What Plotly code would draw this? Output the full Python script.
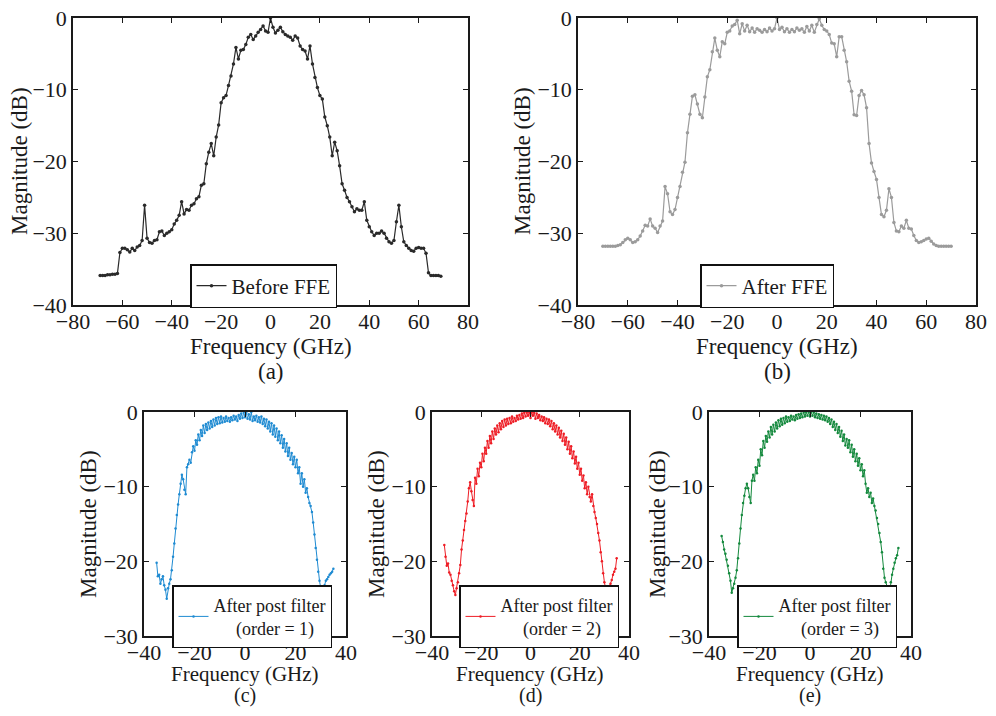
import numpy as np
import plotly.graph_objects as go

# page body has an 8px default margin, so the figure is drawn 8px in from the corner
PAGE_OFF = 8
W, H = 980, 700

# ---------------- data ----------------
freq_a = np.arange(-69, 70, 1)
mag_before_ffe = [
    -35.9, -35.9, -35.9, -35.8, -35.8, -35.7, -35.7, -35.6,
    -32.7, -32.1, -32.1, -32.3, -32.6, -32.1, -32.4, -31.9, -31.7, -31.0,
    -26.1, -30.7, -31.3, -31.4, -31.0, -30.9, -29.8, -29.7, -30.3, -30.0,
    -29.8, -29.5, -28.7, -28.2, -27.5, -25.6, -27.3, -26.7, -26.8, -26.1,
    -25.9, -25.2, -24.9, -23.3, -23.1, -20.3, -18.7, -17.5, -19.2, -16.6,
    -14.9, -11.8, -11.1, -10.8, -9.4, -8.1, -6.4, -4.1, -5.7, -4.5,
    -4.4, -3.7, -2.7, -2.3, -3.0, -2.5, -2.0, -1.6, -1.1, -1.8,
    -2.0, 0.0, -1.3, -2.1, -1.7, -1.3, -1.9, -2.3, -2.5, -2.7,
    -3.1, -2.5, -2.8, -3.9, -4.4, -4.6, -5.7, -3.9, -6.4, -8.3,
    -9.7, -10.8, -11.3, -13.8, -15.0, -16.6, -19.2, -17.3, -18.5, -20.6,
    -23.1, -24.0, -25.0, -25.6, -26.3, -27.0, -26.6, -26.8, -26.8, -25.6,
    -28.2, -29.1, -29.8, -30.3, -30.0, -30.0, -29.7, -30.0, -30.7, -31.2,
    -31.4, -31.0, -28.4, -26.1, -29.1, -31.2, -31.7, -32.1, -32.4, -32.5,
    -32.1, -32.0, -32.1, -32.1, -32.8, -35.5, -35.9, -35.9, -35.9, -35.9, -36.0,
]

freq_b = np.arange(-70, 71, 1)
mag_after_ffe = [
    -31.8, -31.8, -31.8, -31.8, -31.8, -31.8, -31.7, -31.6, -31.3, -30.9,
    -30.7, -30.9, -31.3, -31.2, -30.9, -30.4, -29.7, -28.9, -29.0, -28.0,
    -29.0, -29.3, -29.9, -29.0, -28.3, -23.5, -24.5, -27.0, -27.4, -26.7,
    -25.0, -23.5, -21.5, -20.1, -16.0, -13.4, -10.9, -10.7, -12.0, -13.4,
    -13.9, -11.0, -8.2, -7.2, -4.7, -2.8, -4.5, -5.4, -3.3, -3.6,
    -2.0, -1.8, -1.1, -0.9, -0.3, -2.2, -0.8, -1.8, -1.0, -1.9,
    -1.4, -2.0, -1.5, -1.7, -2.0, -1.6, -1.9, -1.4, -1.8, -1.5,
    0.0, -1.6, -1.3, -1.9, -1.5, -2.0, -1.6, -1.9, -1.4, -1.7,
    -1.5, -2.0, -1.2, -1.8, -1.0, -2.0, -0.9, -0.1, -1.0, -1.6,
    -1.8, -2.3, -3.5, -3.6, -5.4, -2.6, -2.6, -4.5, -6.1, -8.8,
    -10.2, -13.5, -13.6, -10.8, -10.1, -10.7, -12.5, -17.5, -20.2, -21.4,
    -22.5, -25.0, -27.4, -27.7, -26.8, -23.8, -25.0, -28.5, -29.7, -29.8,
    -29.0, -29.3, -28.2, -29.3, -29.4, -30.3, -31.0, -31.3, -31.2, -31.0,
    -30.8, -30.7, -31.1, -31.5, -31.7, -31.8, -31.8, -31.8, -31.8, -31.8, -31.8,
]

freq_post = np.arange(-35, 35.01, 0.5)
mag_post_order1 = [
    -20.2, -22.0, -21.8, -23.0, -22.4, -22.0, -23.2, -23.8, -25.0, -23.6,
    -23.0, -22.4, -21.2, -19.4, -17.6, -15.6, -13.8, -12.4, -11.0, -9.6,
    -8.4, -9.0, -10.4, -11.0, -7.4, -7.0, -6.4, -6.8, -5.4, -4.6,
    -5.2, -3.8, -4.4, -3.0, -3.8, -2.4, -3.2, -1.8, -2.8, -1.6,
    -2.4, -1.4, -2.2, -1.2, -2.0, -1.0, -1.8, -0.8, -1.6, -0.7,
    -1.5, -0.6, -1.4, -0.8, -1.3, -0.6, -1.2, -0.8, -1.3, -0.7,
    -1.1, -0.5, -1.0, -0.6, -1.2, -0.4, -0.9, -0.2, -0.8, 0.0,
    -0.7, -0.1, -0.9, -0.3, -1.0, 0.0, -1.2, -0.6, -1.1, -0.5,
    -1.3, -0.7, -1.4, -0.6, -1.6, -0.9, -1.9, -1.0, -2.2, -1.3,
    -2.6, -1.5, -3.0, -1.8, -3.3, -2.2, -3.8, -2.6, -4.2, -3.1,
    -4.8, -3.6, -5.3, -4.2, -5.9, -4.8, -6.4, -5.5, -7.0, -6.0,
    -7.4, -6.4, -8.2, -7.4, -9.6, -8.2, -10.0, -9.0, -10.8, -10.2,
    -11.4, -12.2, -12.6, -13.4, -14.8, -16.4, -18.2, -19.8, -21.4, -22.6,
    -23.6, -24.4, -23.4, -23.2, -22.6, -22.4, -22.1, -21.8, -21.6, -21.4,
    -21.0,
]
mag_post_order2 = [
    -17.8, -19.4, -20.6, -20.3, -21.5, -21.8, -22.6, -23.2, -24.0, -24.5,
    -23.6, -22.8, -21.6, -20.5, -18.4, -17.2, -15.8, -14.6, -13.6, -12.0,
    -10.2, -9.4, -10.6, -11.8, -12.6, -8.8, -9.6, -7.6, -8.6, -6.8,
    -7.4, -5.6, -6.6, -4.8, -5.6, -3.9, -4.8, -3.2, -4.2, -2.6,
    -3.6, -2.2, -3.0, -1.8, -2.7, -1.5, -2.3, -1.2, -2.0, -1.0,
    -1.8, -0.9, -1.6, -0.8, -1.5, -0.6, -1.3, -0.8, -1.2, -0.5,
    -1.0, -0.4, -0.9, -0.2, -0.8, -0.1, -0.6, 0.0, -0.5, 0.0,
    -0.8, 0.0, -0.5, 0.0, -0.9, -0.2, -0.8, -0.4, -1.1, -0.6,
    -1.2, -0.7, -1.5, -0.9, -1.6, -1.0, -1.9, -1.2, -2.3, -1.5,
    -2.6, -1.8, -3.0, -2.1, -3.4, -2.5, -3.9, -2.9, -4.4, -3.4,
    -5.0, -4.0, -5.6, -4.6, -6.2, -5.3, -6.9, -6.0, -7.6, -6.8,
    -8.4, -7.6, -9.2, -8.5, -10.2, -9.4, -11.0, -10.0, -11.4, -12.0,
    -11.0, -12.6, -13.4, -14.2, -15.0, -16.2, -17.2, -18.8, -20.0, -21.6,
    -22.8, -23.6, -24.0, -24.5, -23.4, -23.0, -22.5, -21.8, -21.4, -21.0,
    -19.6,
]
mag_post_order3 = [
    -16.6, -17.4, -18.4, -19.0, -19.8, -20.6, -21.6, -22.6, -24.2, -23.6,
    -23.0, -22.2, -21.2, -19.6, -17.6, -15.6, -13.8, -12.2, -11.2, -10.2,
    -9.6, -10.2, -11.4, -12.2, -9.2, -8.4, -9.2, -7.4, -8.2, -6.4,
    -7.2, -5.0, -5.8, -3.9, -4.8, -3.2, -4.0, -2.6, -3.4, -2.0,
    -3.0, -1.7, -2.6, -1.4, -2.2, -1.1, -1.9, -0.9, -1.7, -0.8,
    -1.5, -0.6, -1.3, -0.7, -1.2, -0.5, -1.0, -0.6, -1.1, -0.4,
    -0.9, -0.3, -0.8, -0.2, -0.7, 0.0, -0.6, 0.0, -0.5, 0.0,
    -0.6, 0.0, -0.5, 0.0, -0.7, -0.2, -0.8, -0.3, -0.9, -0.4,
    -1.0, -0.5, -1.1, -0.6, -1.3, -0.8, -1.6, -1.0, -2.0, -1.3,
    -2.4, -1.6, -2.8, -2.0, -3.3, -2.5, -3.9, -3.0, -4.5, -3.6,
    -4.8, -3.8, -5.4, -4.4, -6.0, -5.0, -6.6, -5.6, -7.2, -6.2,
    -7.8, -7.0, -8.6, -7.8, -9.6, -10.8, -10.2, -11.4, -10.8, -12.2,
    -11.6, -12.6, -13.2, -14.2, -15.0, -16.2, -17.4, -18.8, -21.0, -22.2,
    -22.8, -23.4, -23.8, -24.2, -22.8, -21.8, -21.0, -20.2, -19.6, -19.2,
    -18.2,
]

top_xticks = [-80, -60, -40, -20, 0, 20, 40, 60, 80]
top_yticks = [-40, -30, -20, -10, 0]
bot_xticks = [-40, -20, 0, 20, 40]
bot_yticks = [-30, -20, -10, 0]

NBSP = "\u00a0"
label_a = "Before FFE"
label_b = "After FFE"
label_c = "After post filter<br>" + NBSP * 5 + "(order = 1)"
label_d = "After post filter<br>" + NBSP * 5 + "(order = 2)"
label_e = "After post filter<br>" + NBSP * 5 + "(order = 3)"

# ---------------- figure ----------------
FONT = "Liberation Serif"
TXT = "#1a1a1a"

def px(x):
    # screen x (pixels in the 996x716 window) -> paper fraction
    return (x - PAGE_OFF) / W

def py(y):
    return 1 - (y - PAGE_OFF) / H

fig = go.Figure()

series = [
    (freq_a, mag_before_ffe, "#2a2a2a", label_a, "x", "y", "legend", 3.5, 1.2),
    (freq_b, mag_after_ffe, "#9b9b9b", label_b, "x2", "y2", "legend2", 3.5, 1.2),
    (freq_post, mag_post_order1, "#1f8bd2", label_c, "x3", "y3", "legend3", 2.5, 1.0),
    (freq_post, mag_post_order2, "#ee1d25", label_d, "x4", "y4", "legend4", 2.5, 1.0),
    (freq_post, mag_post_order3, "#14893d", label_e, "x5", "y5", "legend5", 2.5, 1.0),
]
for xs, ys, col, name, xa, ya, lg, ms, lw in series:
    fig.add_trace(go.Scatter(
        x=xs, y=ys, mode="lines+markers", name=name,
        line=dict(color=col, width=lw),
        marker=dict(color=col, size=ms),
        xaxis=xa, yaxis=ya, legend=lg, showlegend=True,
    ))

axis_common = dict(
    showline=True, linecolor="#1a1a1a", linewidth=1.5, mirror="ticks",
    ticks="inside", ticklen=5, tickwidth=1, tickcolor="#1a1a1a",
    showgrid=False, zeroline=False, automargin=False,
    ticklabeloverflow="allow",
    tickfont=dict(family=FONT, size=22, color=TXT),
)

top_y = [py(305), py(18)]
bot_y = [py(636), py(412)]
panels = [
    ("", [px(73), px(468)], top_y, [-80, 80], [-40, 0], top_xticks, top_yticks),
    ("2", [px(578), px(976)], top_y, [-80, 80], [-40, 0], top_xticks, top_yticks),
    ("3", [px(144), px(346)], bot_y, [-40, 40], [-30, 0], bot_xticks, bot_yticks),
    ("4", [px(432), px(629)], bot_y, [-40, 40], [-30, 0], bot_xticks, bot_yticks),
    ("5", [px(709), px(911)], bot_y, [-40, 40], [-30, 0], bot_xticks, bot_yticks),
]
layout_axes = {}
for sfx, xd, yd, xr, yr, xt, yt in panels:
    layout_axes["xaxis" + sfx] = dict(axis_common, domain=xd, range=xr, tickvals=xt,
                                      anchor="y" + sfx, ticklabelstandoff=-4)
    layout_axes["yaxis" + sfx] = dict(axis_common, domain=yd, range=yr, tickvals=yt,
                                      anchor="x" + sfx)

legend_common = dict(
    xanchor="left", yanchor="top", bordercolor="#111", borderwidth=1.5,
    bgcolor="white", font=dict(family=FONT, size=21, color=TXT), itemwidth=30,
)
small_font = dict(family=FONT, size=18, color=TXT)
legends = dict(
    legend=dict(legend_common, x=px(190), y=py(264)),
    legend2=dict(legend_common, x=px(700), y=py(264)),
    legend3=dict(legend_common, x=px(172), y=py(585), font=small_font),
    legend4=dict(legend_common, x=px(459), y=py(585), font=small_font),
    legend5=dict(legend_common, x=px(737), y=py(585), font=small_font),
)

annotations = []
def ann(text, x, y, angle=0, size=23):
    annotations.append(dict(text=text, x=px(x), y=py(y), xref="paper", yref="paper",
                            showarrow=False, textangle=angle, xanchor="center",
                            yanchor="middle", font=dict(family=FONT, size=size, color=TXT)))

for cx, lab in [(271, "(a)"), (777, "(b)")]:
    ann("Frequency (GHz)", cx, 346)
    ann(lab, cx, 371)
for cx, lab in [(245, "(c)"), (530, "(d)"), (810, "(e)")]:
    ann("Frequency (GHz)", cx, 674, size=21)
    ann(lab, cx, 695, size=20)
for cx, cy in [(19, 161), (522, 161), (88, 524), (376, 524), (657, 524)]:
    ann("Magnitude (dB)", cx, cy, angle=-90)

fig.update_layout(
    width=W, height=H, margin=dict(l=0, r=0, t=0, b=0, autoexpand=False),
    paper_bgcolor="white", plot_bgcolor="white",
    font=dict(family=FONT, color=TXT),
    annotations=annotations,
    **layout_axes, **legends,
)

fig.write_html("out.html")
